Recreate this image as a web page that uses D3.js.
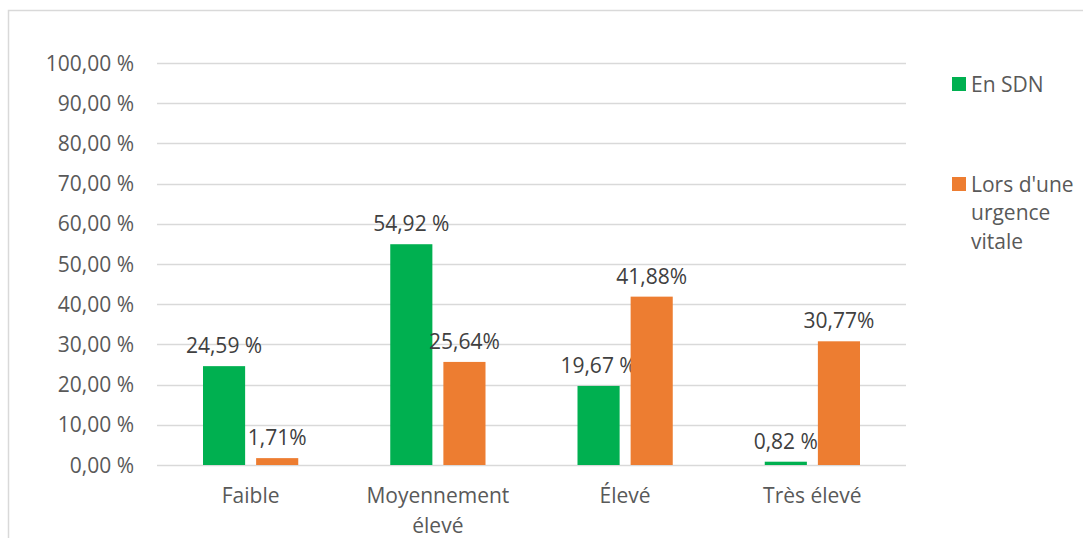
<!DOCTYPE html>
<html>
<head>
<meta charset="utf-8">
<script src="https://cdn.jsdelivr.net/npm/d3@7"></script>
<style>
  body { margin: 0; background: #fff; }
  text { font-family: "Open Sans", sans-serif; }
</style>
</head>
<body>
<svg id="chart" width="1083" height="538"></svg>
<script>
// data
var categories = [["Faible"], ["Moyennement", "élevé"], ["Élevé"], ["Très élevé"]];
var seriesNames = [["En SDN"], ["Lors d'une", "urgence", "vitale"]];
var sdnValues = [24.59, 54.92, 19.67, 0.82];
var urgenceValues = [1.71, 25.64, 41.88, 30.77];
var sdnLabels = ["24,59 %", "54,92 %", "19,67 %", "0,82 %"];
var urgenceLabels = ["1,71%", "25,64%", "41,88%", "30,77%"];
var yTicks = [0, 10, 20, 30, 40, 50, 60, 70, 80, 90, 100];
var colors = ["#00B050", "#ED7D31"];

var svg = d3.select("#chart");
var fs = 21;

// outer chart frame (runs off the right / bottom like the original)
svg.append("rect")
  .attr("x", 8.5).attr("y", 10.5)
  .attr("width", 1200).attr("height", 600)
  .attr("fill", "none").attr("stroke", "#d9d9d9").attr("stroke-width", 1.5);

var plot = { left: 157, right: 906, top: 63, bottom: 465 };

var x = d3.scaleBand()
  .domain(d3.range(categories.length))
  .range([plot.left, plot.right]);

var y = d3.scaleLinear()
  .domain([0, 100])
  .range([plot.bottom, plot.top]);

var groupPad = 46;
var gap = 11;
var barW = (x.bandwidth() - 2 * groupPad - gap) / 2;

// gridlines
svg.append("g").selectAll("line")
  .data(yTicks)
  .enter().append("line")
  .attr("x1", plot.left).attr("x2", plot.right)
  .attr("y1", function (d) { return Math.round(y(d)) + 0.5; })
  .attr("y2", function (d) { return Math.round(y(d)) + 0.5; })
  .attr("stroke", "#d9d9d9").attr("stroke-width", 1.5);

// y tick labels
svg.append("g").selectAll("text")
  .data(yTicks)
  .enter().append("text")
  .attr("x", 134)
  .attr("y", function (d) { return y(d) + 7.5; })
  .attr("text-anchor", "end")
  .attr("font-size", fs)
  .attr("fill", "#595959")
  .text(function (d) { return d3.format(".2f")(d).replace(".", ",") + " %"; });

// bars
var series = [
  { values: sdnValues, labels: sdnLabels, color: colors[0], off: groupPad },
  { values: urgenceValues, labels: urgenceLabels, color: colors[1], off: groupPad + barW + gap }
];

series.forEach(function (s) {
  var g = svg.append("g");
  g.selectAll("rect")
    .data(s.values)
    .enter().append("rect")
    .attr("x", function (d, i) { return x(i) + s.off; })
    .attr("y", function (d) { return y(d); })
    .attr("width", barW)
    .attr("height", function (d) { return y(0) - y(d); })
    .attr("fill", s.color);

  g.selectAll("text")
    .data(s.values)
    .enter().append("text")
    .attr("x", function (d, i) { return x(i) + s.off + barW / 2; })
    .attr("y", function (d) { return y(d) - 13; })
    .attr("text-anchor", "middle")
    .attr("font-size", fs)
    .attr("fill", "#404040")
    .text(function (d, i) { return s.labels[i]; });
});

// category labels
var cat = svg.append("g").selectAll("text")
  .data(categories)
  .enter().append("text")
  .attr("x", function (d, i) { return x(i) + x.bandwidth() / 2; })
  .attr("y", 503)
  .attr("text-anchor", "middle")
  .attr("font-size", fs)
  .attr("fill", "#595959");

cat.selectAll("tspan")
  .data(function (d) { return d; })
  .enter().append("tspan")
  .attr("x", function () { return d3.select(this.parentNode).attr("x"); })
  .attr("dy", function (d, i) { return i === 0 ? 0 : 30; })
  .text(function (d) { return d; });

// legend
var legendY = [77, 177];
var leg = svg.append("g").selectAll("g")
  .data(seriesNames)
  .enter().append("g");

leg.append("rect")
  .attr("x", 952)
  .attr("y", function (d, i) { return legendY[i]; })
  .attr("width", 14).attr("height", 14)
  .attr("fill", function (d, i) { return colors[i]; });

leg.append("text")
  .attr("x", 971)
  .attr("y", function (d, i) { return legendY[i] + 14.5; })
  .attr("font-size", fs)
  .attr("fill", "#595959")
  .selectAll("tspan")
  .data(function (d) { return d; })
  .enter().append("tspan")
  .attr("x", 971)
  .attr("dy", function (d, i) { return i === 0 ? 0 : 28.5; })
  .text(function (d) { return d; });
</script>
</body>
</html>
